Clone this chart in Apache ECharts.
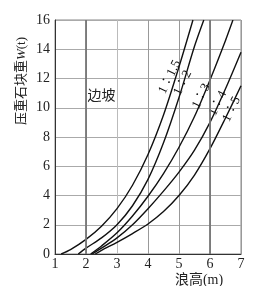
<!DOCTYPE html>
<html>
<head>
<meta charset="utf-8">
<script src="https://cdn.jsdelivr.net/npm/echarts@6/dist/echarts.min.js"></script>
<style>
  html, body { margin: 0; padding: 0; background: #fff; }
  #chart { width: 262px; height: 286px; }
</style>
</head>
<body>
<div id="chart"></div>
<script>
var FONT = '"Liberation Serif", "Noto Sans CJK SC", serif';

// wave height H (m) vs armour weight W (t), one curve per slope
var slopeNames = ['1∶1.5', '1∶2', '1∶3', '1∶4', '1∶5'];
var slope15 = [[1.2,0],[1.5,0.3],[2,1.0],[2.5,1.9],[3,3.1],[3.5,4.7],[4,6.8],[4.5,9.5],[5,12.8],[5.45,16]];
var slope2  = [[1.75,0],[2,0.4],[2.5,1.1],[3,2.0],[3.5,3.3],[4,5.1],[4.5,7.6],[5,10.7],[5.5,14.2],[5.8,16]];
var slope3  = [[2.15,0],[2.5,0.55],[3,1.45],[3.5,2.6],[4,3.95],[4.5,5.5],[5,7.3],[5.5,9.4],[6,11.9],[6.5,14.6],[6.74,16]];
var slope4  = [[2.2,0],[2.5,0.4],[3,1.1],[3.5,2.0],[4,3.1],[4.5,4.3],[5,5.6],[5.5,7.1],[6,9.0],[6.5,11.3],[7,13.8]];
var slope5  = [[2.3,0],[2.5,0.25],[3,0.8],[3.5,1.4],[4,2.05],[4.5,2.9],[5,4.0],[5.5,5.4],[6,7.2],[6.5,9.3],[7,11.5]];
var allCurves = [slope15, slope2, slope3, slope4, slope5];

// where each slope label sits (data coords) and tick/grid settings
var labelAt = [[4.7,12.1],[5.12,11.7],[5.72,10.8],[6.25,10.3],[6.7,9.9]];
var regionText = '边坡';
var regionAt = [2.5, 10.8];
var xTicks = [1, 7, 1];   // min, max, step
var yTicks = [0, 16, 2];
var darkX = [2, 6];

var chart = echarts.init(document.getElementById('chart'));

var series = allCurves.map(function (pts, i) {
   return {
      name: slopeNames[i],
      type: 'line',
      data: pts,
      smooth: 0.3,
      symbol: 'none',
      lineStyle: { color: '#111', width: 1.4 }
   };
});
// the two darker verticals
series.push({
   type: 'line',
   data: [],
   markLine: {
      silent: true,
      symbol: 'none',
      label: { show: false },
      lineStyle: { color: '#777', width: 1.8, type: 'solid' },
      data: darkX.map(function (v) { return { xAxis: v }; })
   }
});

chart.setOption({
   animation: false,
   grid: { left: 55, right: 21, top: 20, bottom: 32, show: true, borderColor: '#888', borderWidth: 1 },
   xAxis: {
      type: 'value', min: xTicks[0], max: xTicks[1], interval: xTicks[2],
      axisLine: { lineStyle: { color: '#333', width: 1 } },
      axisTick: { show: false },
      axisLabel: { color: '#222', fontFamily: FONT, fontSize: 14, margin: 3 },
      splitLine: { lineStyle: { color: ['#999', '#999', '#bbb', '#999', '#999', '#999', '#999'], width: 1 } }
   },
   yAxis: {
      type: 'value', min: yTicks[0], max: yTicks[1], interval: yTicks[2],
      axisLine: { show: true, lineStyle: { color: '#333', width: 1 } },
      axisTick: { show: false },
      axisLabel: { color: '#222', fontFamily: FONT, fontSize: 14, margin: 5 },
      splitLine: { lineStyle: { color: '#aaa', width: 1 } }
   },
   series: series
});

// texts placed from data coordinates
var graphics = labelAt.map(function (p, i) {
   var px = chart.convertToPixel({ gridIndex: 0 }, p);
   return {
      type: 'text', x: px[0], y: px[1], rotation: 64 * Math.PI / 180,
      style: { text: slopeNames[i], font: '13px ' + FONT, fill: '#111', align: 'center', verticalAlign: 'middle' }
   };
});
var rp = chart.convertToPixel({ gridIndex: 0 }, regionAt);
graphics.push({
   type: 'text', x: rp[0], y: rp[1],
   style: { text: regionText, font: '14px ' + FONT, fill: '#222', align: 'center', verticalAlign: 'middle' }
});
graphics.push({
   type: 'text', x: 22, y: 81, rotation: Math.PI / 2,
   style: {
      text: '压重石块重{i|W}(t)',
      font: '13px ' + FONT, fill: '#222', align: 'center', verticalAlign: 'middle',
      rich: { i: { fontStyle: 'italic', fontFamily: FONT, fontSize: 13 } }
   }
});
graphics.push({
   type: 'text', x: 199, y: 280,
   style: { text: '浪高(m)', font: '14px ' + FONT, fill: '#222', align: 'center', verticalAlign: 'middle' }
});
chart.setOption({ graphic: graphics });
</script>
</body>
</html>
